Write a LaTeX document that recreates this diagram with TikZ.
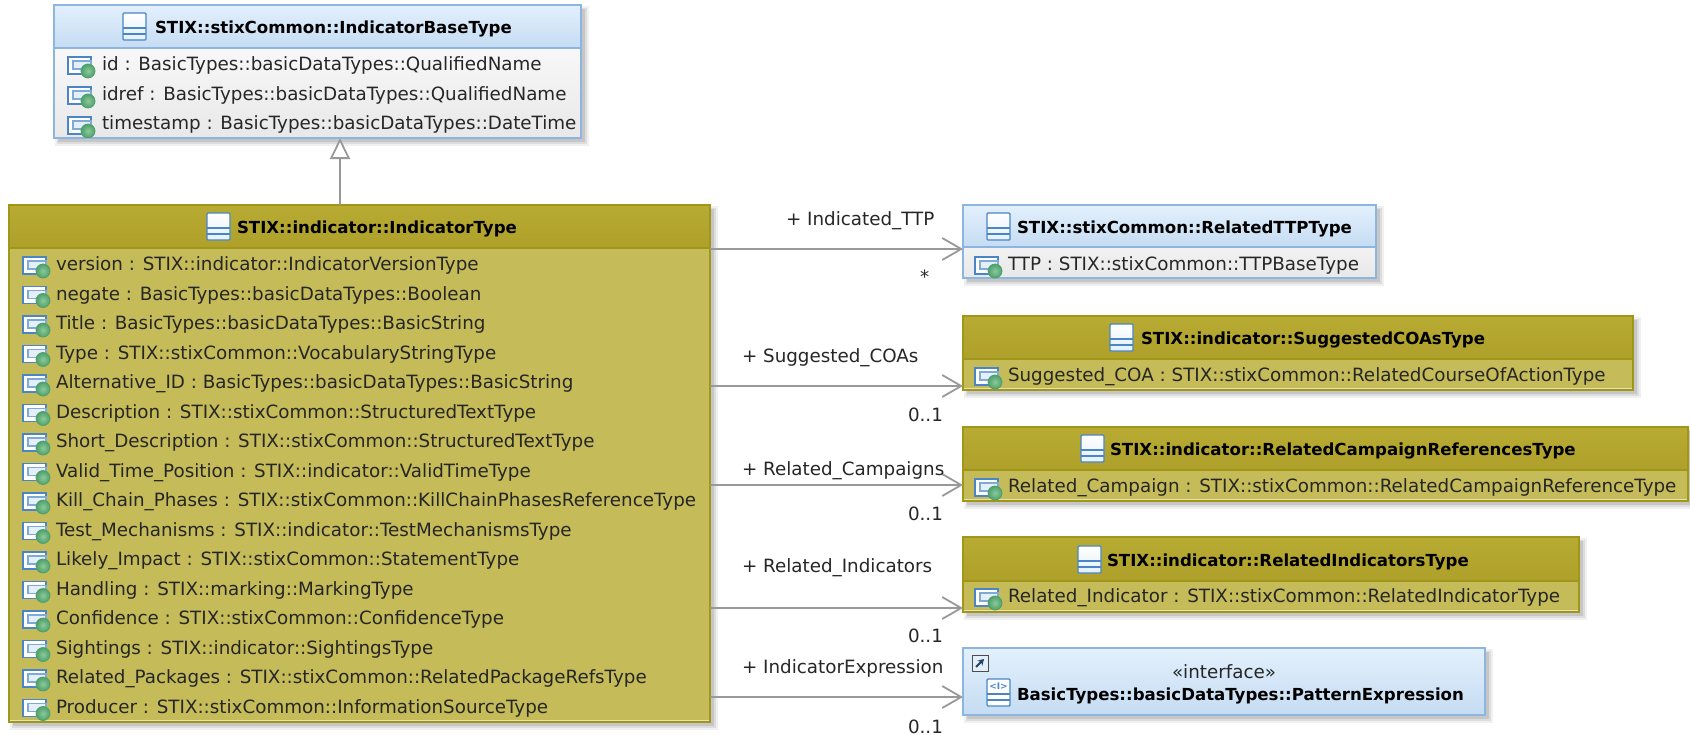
\documentclass[tikz,border=0pt]{standalone}
\usepackage{fontspec}
\setmainfont{DejaVu Sans}
\usetikzlibrary{arrows.meta}
\definecolor{bluebd}{HTML}{8DB5E0}
\definecolor{bluetop}{HTML}{E3F0FC}
\definecolor{bluebot}{HTML}{C5DCF3}
\definecolor{olivebd}{HTML}{A09718}
\definecolor{oliveheadt}{HTML}{B8AB33}
\definecolor{oliveheadb}{HTML}{AEA02A}
\definecolor{olivebody}{HTML}{C5BC59}
\definecolor{icoblue}{HTML}{4A86C5}
\definecolor{icogreen}{HTML}{4FA06C}
\definecolor{icogreenin}{HTML}{8CC99A}
\definecolor{lineg}{HTML}{999999}
\newcommand{\rowfont}{\fontsize{18.3}{20}\selectfont}
\newcommand{\headfont}{\fontsize{16.6}{20}\selectfont\bfseries}
\tikzset{
  x=1pt,y=-1pt,
  boxnode/.style={rectangle,anchor=north west,inner sep=0pt,outer sep=0pt,line width=1.6pt},
  rowtext/.style={anchor=base west,inner sep=0pt,outer sep=0pt,font=\rowfont,text=black!85},
  headtext/.style={anchor=base west,inner sep=0pt,outer sep=0pt,font=\headfont,text=black},
  edgelabel/.style={anchor=base west,inner sep=0pt,outer sep=0pt,font=\rowfont,text=black!85},
  assoc/.style={draw=lineg,line width=1.8pt,-{Straight Barb[length=19pt,width=22pt,line width=1.8pt]}},
  general/.style={draw=lineg,line width=1.8pt,-{Triangle[open,length=21pt,width=20pt,line width=1.8pt,fill=white]}},
  pics/attricon/.style={code={
    \draw[icoblue,line width=1.6pt,fill=white] (0,-7) rectangle (23,10);
    \draw[icoblue!70,line width=1.2pt,fill=bluetop] (5,-3) rectangle (23,5);
    \draw[icogreen,line width=.8pt,inner color=icogreenin,outer color=icogreen] (20,7) circle (7);
  }},
  pics/classicon/.style={code={
    \draw[icoblue,line width=1.4pt,rounded corners=1pt,top color=white,bottom color=bluetop] (0,0) rectangle (23,27);
    \draw[icoblue,line width=1.3pt] (0,15) -- (23,15) (0,21) -- (23,21);
  }},
  pics/ifaceicon/.style={code={
    \draw[icoblue,line width=1.4pt,rounded corners=1pt,fill=white] (0,0) rectangle (23,27);
    \draw[icoblue,line width=1.3pt] (0,15) -- (23,15) (0,21) -- (23,21);
    \node[inner sep=0pt,text=icoblue,font=\fontsize{9}{9}\selectfont\bfseries] (ifaceglyph) at (11.5,7.5) {<I>};
  }},
  pics/linkicon/.style={code={
    \draw[black!70,line width=1pt,fill=bluetop] (0,0) rectangle (16,16);
    \draw[icoblue!50!black,line width=1.8pt,-{Stealth[length=6pt,width=7pt]}] (4,12) -- (12,4);
  }},
}
\newcommand{\boxshadow}[4]{%
  \fill[black,opacity=.06] (#1+1,#2+1) rectangle (#3+8,#4+8);
  \fill[black,opacity=.08] (#1+3,#2+3) rectangle (#3+6,#4+6);
  \fill[black,opacity=.10] (#1+4,#2+4) rectangle (#3+4,#4+4);
}
\newcommand{\bluebox}[6]{%
  \boxshadow{#2}{#3}{#4}{#5}
  \node[boxnode,draw=bluebd,top color=white,bottom color=black!9,minimum width=#4-#2,minimum height=#5-#3] (#1) at (#2,#3) {};
  \node[boxnode,draw=bluebd,top color=bluetop,bottom color=bluebot,minimum width=#4-#2,minimum height=#6-#3] (#1h) at (#2,#3) {};
}
\newcommand{\olivebox}[6]{%
  \boxshadow{#2}{#3}{#4}{#5}
  \node[boxnode,draw=olivebd,fill=olivebody,minimum width=#4-#2,minimum height=#5-#3] (#1) at (#2,#3) {};
  \node[boxnode,draw=olivebd,top color=oliveheadt,bottom color=oliveheadb,minimum width=#4-#2,minimum height=#6-#3] (#1h) at (#2,#3) {};
  \draw[olivebody!45!white,line width=1pt] (#2+1,#5-2) -- (#4-1,#5-2);
}
\begin{document}
\begin{tikzpicture}
\useasboundingbox (0,0) rectangle (1690,734);
% base
\bluebox{base}{54}{5}{581}{138}{48}
\pic at (123,13) {classicon};
\node[headtext] (baset) at (155,33) {STIX::stixCommon::IndicatorBaseType};
\begin{scope}
\clip (54,5) rectangle (581,137);
\foreach \t [count=\i] in {id : BasicTypes::basicDataTypes::QualifiedName,idref : BasicTypes::basicDataTypes::QualifiedName,timestamp : BasicTypes::basicDataTypes::DateTime}{
  \pic at (68,{64+(\i-1)*30}) {attricon};
  \node[rowtext] (base-\i) at (102,{70.5+(\i-1)*29.5}) {\t};
}
\end{scope}
% indicator
\olivebox{ind}{9}{205}{710}{722}{248}
\pic at (207,213) {classicon};
\node[headtext] (indt) at (237,233) {STIX::indicator::IndicatorType};
\foreach \t [count=\i] in {
version : STIX::indicator::IndicatorVersionType,
negate : BasicTypes::basicDataTypes::Boolean,
Title : BasicTypes::basicDataTypes::BasicString,
Type : STIX::stixCommon::VocabularyStringType,
Alternative\_ID : BasicTypes::basicDataTypes::BasicString,
Description : STIX::stixCommon::StructuredTextType,
Short\_Description : STIX::stixCommon::StructuredTextType,
Valid\_Time\_Position : STIX::indicator::ValidTimeType,
Kill\_Chain\_Phases : STIX::stixCommon::KillChainPhasesReferenceType,
Test\_Mechanisms : STIX::indicator::TestMechanismsType,
Likely\_Impact : STIX::stixCommon::StatementType,
Handling : STIX::marking::MarkingType,
Confidence : STIX::stixCommon::ConfidenceType,
Sightings : STIX::indicator::SightingsType,
Related\_Packages : STIX::stixCommon::RelatedPackageRefsType,
Producer : STIX::stixCommon::InformationSourceType}{
  \pic at (23,{264+(\i-1)*29.5}) {attricon};
  \node[rowtext] (ind-\i) at (56,{270.5+(\i-1)*29.5}) {\t};
}
% ttp
\bluebox{ttp}{963}{205}{1376}{278}{247}
\pic at (987,213) {classicon};
\node[headtext] (ttpt) at (1017,233) {STIX::stixCommon::RelatedTTPType};
\pic at (975,264) {attricon};
\node[rowtext] (ttp-1) at (1008,270.5) {TTP : STIX::stixCommon::TTPBaseType};
% suggested
\olivebox{coa}{963}{316}{1633}{390}{359}
\pic at (1110,324) {classicon};
\node[headtext] (coat) at (1141,344) {STIX::indicator::SuggestedCOAsType};
\pic at (975,375) {attricon};
\node[rowtext] (coa-1) at (1008,381.5) {Suggested\_COA : STIX::stixCommon::RelatedCourseOfActionType};
% campaign
\olivebox{cam}{963}{427}{1688}{501}{470}
\pic at (1081,435) {classicon};
\node[headtext] (camt) at (1110,455) {STIX::indicator::RelatedCampaignReferencesType};
\pic at (975,486) {attricon};
\node[rowtext] (cam-1) at (1008,492.5) {Related\_Campaign : STIX::stixCommon::RelatedCampaignReferenceType};
% indicators
\olivebox{rel}{963}{537}{1579}{612}{581}
\pic at (1078,546) {classicon};
\node[headtext] (relt) at (1107,566) {STIX::indicator::RelatedIndicatorsType};
\pic at (975,596) {attricon};
\node[rowtext] (rel-1) at (1008,602.5) {Related\_Indicator : STIX::stixCommon::RelatedIndicatorType};
% pattern
\bluebox{pat}{963}{648}{1485}{715}{715}
\pic at (972,655) {linkicon};
\pic at (987,679) {ifaceicon};
\node[anchor=base,inner sep=0pt,font=\rowfont,text=black!85] (pats) at (1224,678) {«interface»};
\node[headtext] (patt) at (1017,700.5) {BasicTypes::basicDataTypes::PatternExpression};
% connectors
\draw[general] (ind.north -| 340,0) -- (base.south -| 340,0);
\draw[assoc] (ind.east |- 0,249) -- (ttp.west |- 0,249);
\draw[assoc] (ind.east |- 0,386) -- (coa.west |- 0,386);
\draw[assoc] (ind.east |- 0,485) -- (cam.west |- 0,485);
\draw[assoc] (ind.east |- 0,608) -- (rel.west |- 0,608);
\draw[assoc] (ind.east |- 0,697) -- (pat.west |- 0,697);
% labels
\node[edgelabel] (l1) at (786,225) {+ Indicated\_TTP};
\node[edgelabel] (m1) at (920,283) {*};
\node[edgelabel] (l2) at (742,362) {+ Suggested\_COAs};
\node[edgelabel] (m2) at (908,421) {0..1};
\node[edgelabel] (l3) at (742,475) {+ Related\_Campaigns};
\node[edgelabel] (m3) at (908,520) {0..1};
\node[edgelabel] (l4) at (742,572) {+ Related\_Indicators};
\node[edgelabel] (m4) at (908,642) {0..1};
\node[edgelabel] (l5) at (742,673) {+ IndicatorExpression};
\node[edgelabel] (m5) at (908,733) {0..1};
\end{tikzpicture}
\end{document}
